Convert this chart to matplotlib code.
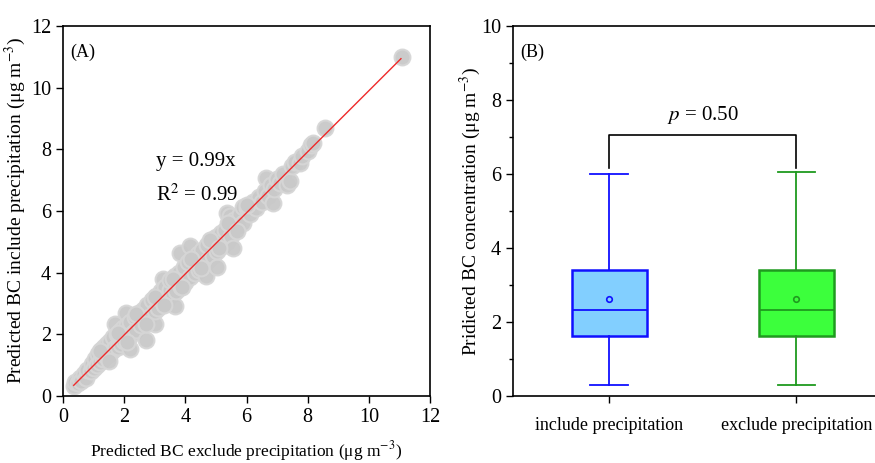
import matplotlib.pyplot as plt
from matplotlib.ticker import MultipleLocator

plt.rcParams['font.family'] = ['Liberation Serif', 'DejaVu Serif']
plt.rcParams['mathtext.fontset'] = 'stix'

# panel A: predicted BC, exclude vs include precipitation
pts_excl = [0.35, 0.4, 0.5, 0.55, 0.6, 0.7, 0.75, 0.8, 0.9, 0.95, 1.0, 1.05, 1.1, 1.15, 1.2,
            1.25, 1.3, 1.35, 1.4, 1.45, 1.5, 1.55, 1.6, 1.65, 1.7, 1.69, 1.75, 1.8, 1.85, 1.9,
            1.95, 2.0, 2.07, 2.1, 2.15, 2.18, 2.2, 2.3, 2.35, 2.4, 2.5, 2.55, 2.6, 2.7, 2.73,
            2.75, 2.8, 2.9, 3.0, 3.0, 3.05, 3.1, 3.2, 3.27, 3.3, 3.35, 3.4, 3.49, 3.5, 3.6,
            3.65, 3.65, 3.7, 3.8, 3.82, 3.85, 3.95, 4.0, 4.1, 4.15, 4.15, 4.25, 4.3, 4.4, 4.45,
            4.55, 4.6, 4.69, 4.7, 4.75, 4.85, 4.9, 5.0, 5.02, 5.05, 5.15, 5.2, 5.3, 5.35, 5.35,
            5.45, 5.5, 5.56, 5.6, 5.7, 5.8, 5.89, 5.9, 6.0, 6.1, 6.2, 6.3, 6.4, 6.5, 6.65,
            6.6, 6.7, 6.87, 6.8, 6.9, 7.0, 7.1, 7.2, 7.31, 7.42, 7.5, 7.6, 7.75, 7.8, 8.0,
            8.1, 8.18, 8.56, 11.07,
            1.2, 1.5, 1.8, 2.1, 2.4, 2.7, 3.0, 3.3, 3.6, 3.9, 4.2, 4.5, 4.8, 5.1, 5.4, 5.7, 6.0]
pts_incl = [0.33, 0.45, 0.42, 0.6, 0.5, 0.72, 0.6, 0.85, 0.8, 1.05, 0.9, 1.2, 1.0, 1.35, 1.1,
            1.5, 1.2, 1.6, 1.3, 1.7, 1.35, 1.8, 1.45, 1.9, 1.55, 2.32, 2.0, 1.6, 2.1, 1.7,
            2.2, 1.8, 2.7, 2.3, 1.9, 1.51, 2.4, 2.05, 2.55, 2.15, 2.7, 2.3, 2.8, 2.45, 1.83,
            2.95, 2.55, 3.1, 2.32, 2.75, 3.25, 2.85, 3.4, 3.78, 3.0, 3.55, 3.1, 3.45, 3.75, 3.3,
            2.91, 3.9, 3.4, 4.0, 4.64, 3.55, 4.2, 3.7, 4.35, 4.86, 3.85, 4.45, 4.0, 4.6, 4.1,
            4.75, 4.25, 3.88, 4.9, 4.4, 5.05, 4.55, 5.15, 4.2, 4.7, 5.3, 4.85, 5.4, 5.94, 5.0,
            5.83, 5.2, 4.8, 5.7, 5.5, 5.9, 6.14, 5.6, 6.1, 5.9, 6.3, 6.1, 6.45, 6.3, 7.07,
            6.65, 6.5, 6.25, 6.85, 6.7, 7.05, 6.9, 7.2, 6.85, 6.96, 7.45, 7.6, 7.55, 7.8, 7.95,
            8.15, 8.2, 8.69, 11.0,
            1.45, 1.15, 2.05, 1.75, 2.65, 2.35, 3.2, 2.95, 3.8, 3.55, 4.45, 4.15, 5.05, 4.8, 5.6, 5.35, 6.2]
fit_slope = 0.99
fit_range = [0.35, 11.05]

# panel B: box statistics
groups = ['include precipitation', 'exclude precipitation']
whislo = [0.3, 0.3]
q1 = [1.63, 1.63]
median = [2.32, 2.33]
q3 = [3.4, 3.4]
whishi = [6.0, 6.05]
means = [2.62, 2.63]
face_cols = ['#82cfff', '#3cff3c']
edge_cols = ['#1010ff', '#1f9a1f']
p_text = '$\\mathit{p}$ = 0.50'

fig = plt.figure(figsize=(8.75, 4.63), dpi=100)
axA = fig.add_axes([63 / 875, 1 - 396 / 463, 367 / 875, 370 / 463])
axB = fig.add_axes([513 / 875, 1 - 396 / 463, 377 / 875, 370 / 463])

# ---- panel A
axA.scatter(pts_excl, pts_incl, s=130, facecolor='#c9c9c9', edgecolor='#d6d6d6',
            linewidth=1.5, alpha=0.95, zorder=2)
axA.plot(fit_range, [fit_slope * v for v in fit_range], color='#ee2a2a', lw=1, zorder=3)
axA.set_xlim(0, 12)
axA.set_ylim(0, 12)
axA.xaxis.set_major_locator(MultipleLocator(2))
axA.yaxis.set_major_locator(MultipleLocator(2))
axA.tick_params(direction='out', labelsize=14.5, length=5, width=1)
axA.set_xlabel('Predicted BC exclude precipitation (μg m$^{-3}$)', fontsize=12.5)
axA.set_ylabel('Predicted BC include precipitation (μg m$^{-3}$)', fontsize=14)
axA.xaxis.set_label_coords(0.5, -0.115)
axA.yaxis.set_label_coords(-0.095, 0.5)
axA.text(0.02, 0.93, '(A)', transform=axA.transAxes, fontsize=13, va='center')
axA.text(3.05, 7.6, 'y = 0.99x', fontsize=15, va='center')
axA.text(3.05, 6.5, 'R$^2$ = 0.99', fontsize=15, va='center')

# ---- panel B
stats = []
for i in range(len(groups)):
    stats.append({'whislo': whislo[i], 'q1': q1[i], 'med': median[i], 'q3': q3[i],
                  'whishi': whishi[i], 'mean': means[i], 'fliers': []})
pos = [1, 2]
for i in range(len(groups)):
    axB.bxp([stats[i]], positions=[pos[i]], widths=0.4, patch_artist=True,
            showmeans=True, showfliers=False,
            boxprops=dict(facecolor=face_cols[i], edgecolor=edge_cols[i], linewidth=1.8),
            medianprops=dict(color=edge_cols[i], linewidth=1.3),
            whiskerprops=dict(color=edge_cols[i], linewidth=1.3),
            capprops=dict(color=edge_cols[i], linewidth=1.3),
            capwidths=0.2,
            meanprops=dict(marker='o', markersize=4, markerfacecolor='none',
                           markeredgecolor=edge_cols[i], markeredgewidth=1.2))

bracket_y = 7.05
axB.plot([pos[0], pos[0], pos[1], pos[1]], [6.15, bracket_y, bracket_y, 6.15],
         color='black', lw=1.2)
axB.text((pos[0] + pos[1]) / 2, 7.6, p_text, ha='center', va='center', fontsize=15)

axB.set_xlim(0.487, 2.5)
axB.set_ylim(0, 10)
axB.set_xticks(pos)
axB.set_xticklabels(groups)
axB.yaxis.set_major_locator(MultipleLocator(2))
axB.yaxis.set_minor_locator(MultipleLocator(1))
axB.tick_params(direction='out', labelsize=14.5, length=5, width=1)
axB.tick_params(axis='x', labelsize=13, pad=10)
axB.tick_params(which='minor', direction='out', length=3, width=1)
axB.set_ylabel('Pridicted BC concentration (μg m$^{-3}$)', fontsize=14)
axB.yaxis.set_label_coords(-0.08, 0.5)
axB.text(0.02, 0.93, '(B)', transform=axB.transAxes, fontsize=13, va='center')

for ax in (axA, axB):
    for sp in ax.spines.values():
        sp.set_linewidth(1.2)

fig.savefig('out.png', dpi=100)
